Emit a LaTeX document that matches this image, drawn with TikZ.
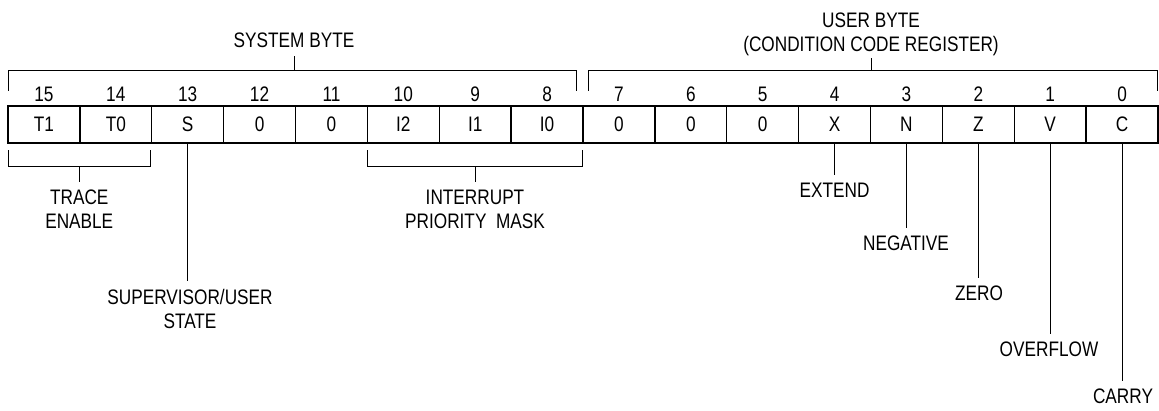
\documentclass[tikz,border=0pt]{standalone}
\usepackage{fontspec}
\setmainfont{Liberation Sans}[FakeStretch=0.82]
\begin{document}
\begin{tikzpicture}[x=1pt,y=-1pt,
  every node/.style={font=\fontsize{21}{24}\selectfont},
  cell/.style={draw, line width=1.3pt, minimum width=71.875pt, minimum height=37pt, inner sep=0pt, anchor=center},
  bitnum/.style={inner sep=0pt, anchor=base},
  lbl/.style={inner sep=0pt, anchor=north, align=center},
  brk/.style={line width=0.8pt},
  leader/.style={line width=0.8pt, shorten >=8pt}]
\useasboundingbox (0,0) rectangle (1159,410);

\foreach \k/\lab in {15/T1,14/T0,13/S,12/0,11/0,10/I2,9/I1,8/I0,7/0,6/0,5/0,4/X,3/N,2/Z,1/V,0/C} {
  \node[cell] (c\k) at ({43.9375+71.875*(15-\k)},124.5) {\lab};
  \node[bitnum] (n\k) at ({43.9375+71.875*(15-\k)},101.5) {\k};
}

% top brackets
\draw[brk] (8,90.7) -- (8,70.7) -- (576.7,70.7) -- (576.7,90.7);
\coordinate (sysMid) at (294,70.7);
\draw[brk] (sysMid) -- ++(0pt,15pt);
\node[lbl] (sys) at (294,33) {SYSTEM BYTE};

\draw[brk] (588.3,90.7) -- (588.3,70.7) -- (1157.3,70.7) -- (1157.3,90.7);
\coordinate (usrMid) at (871,70.7);
\draw[brk] (usrMid) -- ++(0pt,13pt);
\node[lbl] (usr) at (871,12.5) {USER BYTE\\(CONDITION CODE REGISTER)};

% bottom brackets
\draw[brk] (8,150) -- (8,166) -- (150.5,166) -- (150.5,150);
\coordinate (trMid) at (79.25,166);
\node[lbl] (trace) at (79.25,190) {TRACE\\ENABLE};
\draw[leader] (trMid) -- (trMid |- trace.north);

\draw[brk] (367.4,150) -- (367.4,166) -- (582.7,166) -- (582.7,150);
\coordinate (intMid) at (475,166);
\node[lbl] (intr) at (475,190) {INTERRUPT\\PRIORITY~ MASK};
\draw[leader] (intMid) -- (intMid |- intr.north);

% flag labels
\node[lbl] (sup) at (190,289) {SUPERVISOR/USER\\STATE};
\node[lbl] (ext) at (834.6,183) {EXTEND};
\node[lbl] (neg) at (906,236) {NEGATIVE};
\node[lbl] (zer) at (979,286) {ZERO};
\node[lbl] (ovf) at (1049,341.7) {OVERFLOW};
\node[lbl] (car) at (1123,389) {CARRY};

\draw[leader] (c13.south) -- (c13.south |- sup.north);
\draw[leader] (c4.south) -- (c4.south |- ext.north);
\draw[leader] (c3.south) -- (c3.south |- neg.north);
\draw[leader] (c2.south) -- (c2.south |- zer.north);
\draw[leader] (c1.south) -- (c1.south |- ovf.north);
\draw[leader] (c0.south) -- (c0.south |- car.north);
\end{tikzpicture}
\end{document}
